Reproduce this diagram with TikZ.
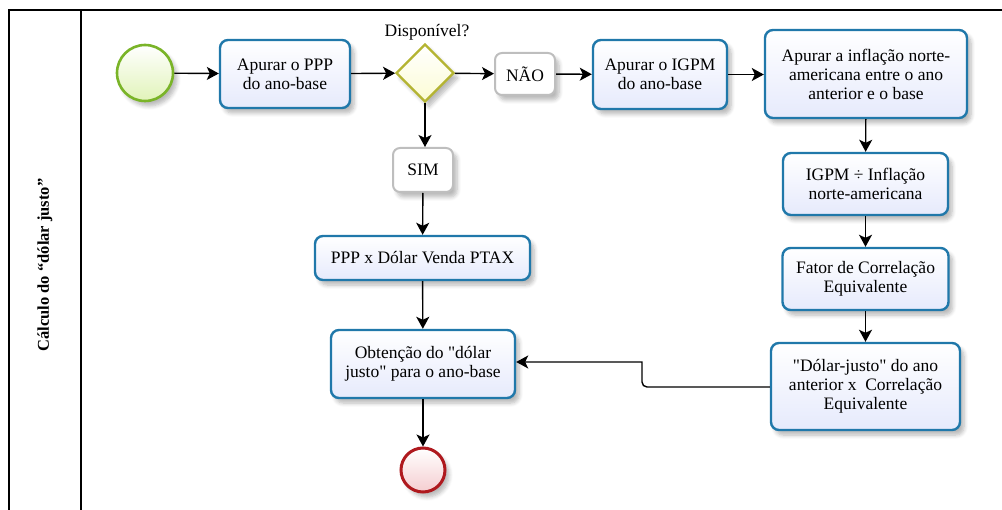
\documentclass[tikz,border=0pt]{standalone}
\usepackage{fontspec}
\setmainfont{Liberation Serif}[Ligatures=TeXOff]
\usetikzlibrary{arrows.meta,shapes.geometric,shadows.blur}

\definecolor{taskline}{RGB}{32,120,170}
\definecolor{taskfill}{RGB}{230,234,252}
\definecolor{startline}{RGB}{122,180,40}
\definecolor{startfill}{RGB}{225,243,185}
\definecolor{gateline}{RGB}{180,180,50}
\definecolor{gatefill}{RGB}{252,252,212}
\definecolor{endline}{RGB}{175,25,30}
\definecolor{endfill}{RGB}{245,205,208}
\definecolor{labelline}{RGB}{190,190,190}

\tikzset{
  softshadow/.style={blur shadow={shadow xshift=4pt, shadow yshift=-5pt,
      shadow blur radius=4pt, shadow blur steps=6, shadow opacity=28}},
  task/.style={draw=taskline, line width=2.4pt, rounded corners=8pt,
      top color=white, bottom color=taskfill, softshadow,
      align=center, inner sep=2pt, font=\fontsize{17.5}{19}\selectfont},
  flag/.style={draw=labelline, line width=2pt, rounded corners=7pt,
      fill=white, softshadow, align=center, inner sep=2pt,
      font=\fontsize{17.5}{19}\selectfont},
  gate/.style={diamond, aspect=1, draw=gateline, line width=2.2pt,
      top color=white, bottom color=gatefill, softshadow,
      minimum width=58pt, minimum height=58pt, inner sep=0pt},
  startev/.style={circle, draw=startline, line width=2.6pt,
      top color=white, bottom color=startfill, softshadow,
      minimum size=56pt, inner sep=0pt},
  endev/.style={circle, draw=endline, line width=3pt,
      top color=white, bottom color=endfill, softshadow,
      minimum size=44pt, inner sep=0pt},
  flow/.style={line width=1.4pt, draw=black,
      -{Stealth[length=12pt, width=13pt, inset=3pt]}},
  lane/.style={line width=1.5pt, draw=black}
}

\begin{document}
\begin{tikzpicture}[x=1pt, y=-1pt]
\useasboundingbox (0,0) rectangle (1002,510);

% pool frame and lane header
\draw[lane] (9,510) -- (9,10) -- (1002,10);
\draw[lane] (81,10) -- (81,510);
\node[rotate=90, font=\bfseries\fontsize{16.5}{18}\selectfont] (title) at (45,265)
  {Cálculo do “dólar justo”};

% events, gateway and tasks
\node[startev] (start) at (145,73) {};
\node[task, minimum width=130pt, minimum height=68pt] (ppp) at (285,74)
  {Apurar o PPP\\do ano-base};
\node[gate] (gw) at (425,73) {};
\node[font=\fontsize{17.5}{19}\selectfont, anchor=south] (gwlabel) at (427,44) {Disponível?};
\node[flag, minimum width=60pt, minimum height=42pt] (nao) at (525,74) {NÃO};
\node[task, minimum width=134pt, minimum height=69pt] (igpm) at (660,74.5)
  {Apurar o IGPM\\do ano-base};
\node[task, minimum width=202pt, minimum height=88pt] (infl) at (866,74)
  {Apurar a inflação norte-\\americana entre o ano\\anterior e o base};
\node[task, minimum width=165pt, minimum height=62pt] (div) at (865.5,184)
  {IGPM ÷ Inflação\\norte-americana};
\node[task, minimum width=166pt, minimum height=62pt] (fator) at (865.5,279)
  {Fator de Correlação\\Equivalente};
\node[task, minimum width=189pt, minimum height=87pt] (dj) at (865.5,386.5)
  {"Dólar-justo" do ano\\anterior x\ \ Correlação\\Equivalente};
\node[flag, minimum width=60pt, minimum height=44pt] (sim) at (423,170) {SIM};
\node[task, minimum width=215pt, minimum height=44pt] (pptax) at (422.5,258)
  {PPP x Dólar Venda PTAX};
\node[task, minimum width=184pt, minimum height=68pt] (obt) at (423,364)
  {Obtenção do "dólar\\justo" para o ano-base};
\node[endev] (stop) at (423,470) {};

% sequence flows
\draw[flow] (start) -- (ppp);
\draw[flow] (ppp) -- (gw);
\draw[flow] (gw) -- (nao);
\draw[flow] (nao) -- (igpm);
\draw[flow] (igpm) -- (igpm -| infl.west);
\draw[flow] (infl) -- (div);
\draw[flow] (div) -- (fator);
\draw[flow] (fator) -- (dj);
\draw[flow] (gw.south) -- (sim.north -| gw.south);
\draw[flow] (sim) -- (pptax);
\draw[flow] (pptax) -- (obt);
\draw[flow] (obt) -- (stop);
\coordinate (bendlow) at (642,387);
\coordinate (bendhigh) at (642,362);
\draw[flow] (dj.west |- bendlow) [rounded corners=5pt] -- (bendlow)
  [sharp corners] -- (bendhigh) -- (obt.east |- bendhigh);
\end{tikzpicture}
\end{document}
